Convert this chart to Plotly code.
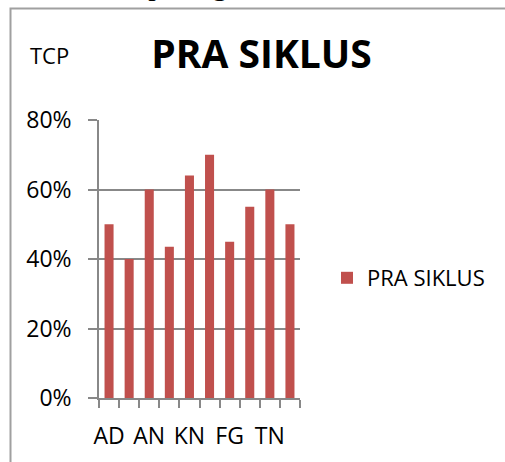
import plotly.graph_objects as go

# ---- data ----
categories = ["AD", "AF", "AN", "DS", "KN", "MR", "FG", "RA", "TN", "ZA"]
shown_labels = ["AD", "", "AN", "", "KN", "", "FG", "", "TN", ""]
pra_siklus = [0.50, 0.40, 0.60, 0.435, 0.64, 0.70, 0.45, 0.55, 0.60, 0.50]
series_name = "PRA SIKLUS"
title_text = "PRA SIKLUS"
y_label = "TCP"
context_text = "dilihat pada gambar di bawah ini"

W, H = 505, 462
L, R, T, B = 99, 300, 120, 398  # plot area in px


def px_x(px):
    return (px - L) / (R - L)


def px_y(py):
    return (B - py) / (B - T)


FONT = "Open Sans"
GRID = "#888888"

fig = go.Figure()
fig.add_trace(go.Bar(
    x=categories, y=pra_siklus, name=series_name,
    marker=dict(color="#C0504D", line=dict(width=0)),
    showlegend=True,
))

fig.update_layout(
    width=W, height=H,
    margin=dict(l=L, r=W - R, t=T, b=H - B, pad=0),
    paper_bgcolor="white", plot_bgcolor="white",
    bargap=0.55,
    font=dict(family=FONT, size=22, color="black"),
    title=dict(text="<b>" + title_text + "</b>", font=dict(family=FONT, size=39, color="black"),
               xref="paper", x=px_x(261.5), xanchor="center",
               yref="container", y=1 - 54 / H, yanchor="middle"),
    showlegend=True,
    legend=dict(x=px_x(327), xanchor="left", y=px_y(278), yanchor="middle",
                font=dict(family=FONT, size=22, color="black"), bgcolor="rgba(0,0,0,0)"),
    xaxis=dict(
        type="category", range=[-0.5, 9.5],
        tickmode="array", tickvals=categories, ticktext=shown_labels, tickangle=0,
        tickson="boundaries", ticks="outside", ticklen=8, tickcolor=GRID, tickwidth=1.5,
        showline=True, linecolor=GRID, linewidth=1.5, showgrid=False,
        tickfont=dict(family=FONT, size=23, color="black"),
        ticklabelstandoff=17,
        automargin=False, fixedrange=True,
    ),
    yaxis=dict(
        range=[0, 0.8], dtick=0.2, tickformat=".0%",
        ticks="outside", ticklen=9, tickcolor=GRID, tickwidth=1.5,
        showline=True, linecolor=GRID, linewidth=1.5,
        showgrid=True, gridcolor=GRID, gridwidth=1.5, zeroline=False,
        tickfont=dict(family=FONT, size=23, color="black"),
        ticklabelstandoff=12,
        automargin=False, fixedrange=True,
    ),
)

fig.add_annotation(text=y_label, xref="paper", yref="paper", x=px_x(49), y=px_y(55),
                   xanchor="center", yanchor="middle", showarrow=False,
                   font=dict(family=FONT, size=22, color="black"))

fig.add_annotation(text=context_text, xref="paper", yref="paper", x=px_x(62), y=px_y(3),
                   xanchor="left", yanchor="bottom", showarrow=False,
                   font=dict(family="Liberation Serif", size=30, color="black"))

# chart border (only left and top edges fall inside the picture)
fig.add_shape(type="rect", xref="paper", yref="paper", layer="below",
              x0=px_x(10.5), x1=px_x(530), y0=px_y(8.5), y1=px_y(490),
              line=dict(color="#A0A0A0", width=2), fillcolor="rgba(0,0,0,0)")

fig.write_html("out.html", config={"displayModeBar": False},
               post_script="document.body.style.margin='0';document.body.style.overflow='hidden';")
